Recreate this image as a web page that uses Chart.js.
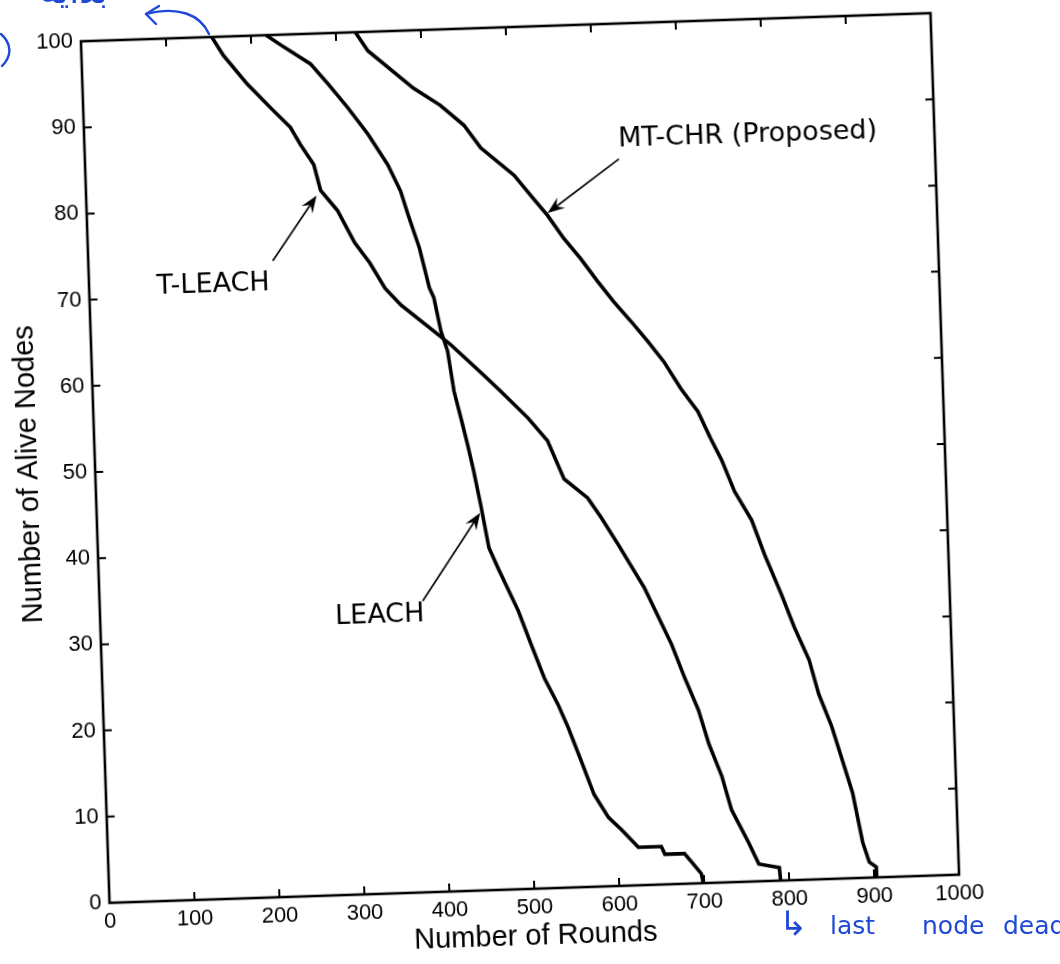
<!DOCTYPE html>
<html lang="en">
<head>
    <meta charset="UTF-8">
    <title>Number of Alive Nodes</title>
    <script src="https://cdn.jsdelivr.net/npm/chart.js"></script>
    <style>
        html, body {
            margin: 0;
            padding: 0;
            background: #fff;
            overflow: hidden;
        }

        .page {
            position: relative;
            width: 1060px;
            height: 964px;
            overflow: hidden;
            background: #fff;
        }

        /* the printed figure sits slightly askew on the page */
        #aliveChart {
            position: absolute;
            left: 0;
            top: 0;
            transform-origin: 520px 458px;
            transform: rotate(-1.9deg);
        }

        .ink {
            position: absolute;
            color: #1f48d6;
            font-family: "DejaVu Sans", sans-serif;
            font-size: 25px;
            white-space: nowrap;
        }

        .ink-lines {
            position: absolute;
            left: 0;
            top: 0;
        }
    </style>
</head>
<body>
    <div class="page">
        <canvas id="aliveChart" width="1060" height="964"></canvas>

        <svg class="ink-lines" width="1060" height="964">
            <g fill="none" stroke="#1f48d6" stroke-width="2.4" stroke-linecap="round" stroke-linejoin="round">
                <path d="M209,34 C200,14 178,6 146,14"/>
                <path d="M159,6 L146,14 L156,24"/>
                <path d="M1,34 C12,44 12,56 2,66"/>
            </g>
        </svg>
        <div class="ink" style="left:40px; top:-30px; font-size:36px;" dir="rtl">بداية</div>
        <div class="ink" style="left:779px; top:903px; font-size:34px;">↳</div>
        <div class="ink" style="left:830px; top:911px;">last</div>
        <div class="ink" style="left:922px; top:911px;">node</div>
        <div class="ink" style="left:1003px; top:911px;">dead</div>
    </div>

    <script>
        // rounds at which each protocol reaches the given number of alive nodes
        const mtchrRounds = [323, 337, 360, 389, 420, 447, 466, 504, 526, 542, 560, 579, 598, 616, 636, 655, 673, 692, 711, 725, 737, 751, 770, 784, 802, 816, 832, 842, 856, 867, 878, 888, 895, 903, 903];
        const mtchrAlive  = [100, 97.8, 95.8, 93.3, 91.2, 88.8, 86.1, 82.8, 80, 78, 75.3, 72.9, 70.2, 67.8, 65.4, 63, 60.6, 57.4, 54.7, 51.5, 49, 45.3, 41.9, 37.8, 33.2, 29.3, 25.5, 21.5, 17.7, 13.8, 9.9, 4.1, 1.8, 1.2, 0];

        const tleachRounds = [154, 167, 194, 220, 243, 254, 269, 276, 295, 314, 331, 348, 366, 403, 423, 460, 480, 511, 533, 551, 578, 593, 612, 641, 671, 685, 700, 711, 725, 735, 754, 765, 789, 790];
        const tleachAlive  = [100, 97.8, 94.4, 91.6, 89.2, 87.2, 84.8, 81.8, 79.4, 75.6, 73.2, 70.2, 68.2, 65.1, 63.4, 59.8, 57.8, 54.6, 51.9, 47.4, 45.1, 42.8, 39.6, 34.5, 27.8, 23.9, 20.1, 16.1, 12.3, 8.4, 4.5, 2, 1.5, 0];

        const leachRounds = [218, 235, 269, 289, 311, 334, 356, 370, 378, 390, 400, 405, 412, 419, 425, 432, 439, 445, 452, 460, 470, 492, 506, 520, 535, 546, 560, 574, 590, 605, 624, 651, 655, 678, 686, 697, 699];
        const leachAlive  = [100, 98.8, 96.5, 94.1, 91.3, 88.1, 84.5, 81.4, 78.6, 74.7, 70.1, 68.9, 65, 62.7, 58, 54.9, 51.7, 48.7, 44.7, 39.7, 37.3, 32.3, 28.3, 24.4, 21.3, 18.6, 14.7, 10.7, 8, 6.5, 4.4, 4.4, 3.5, 3.5, 2.5, 1.1, 0];

        const roundTicks = [0, 100, 200, 300, 400, 500, 600, 700, 800, 900, 1000];
        const aliveTicks = [0, 10, 20, 30, 40, 50, 60, 70, 80, 90, 100];

        // text callouts with arrows, placed in data units
        const callouts = [
            { text: 'MT-CHR (Proposed)', at: [628, 86.6], align: 'left',   from: [628, 84.3], to: [542, 78.3] },
            { text: 'T-LEACH',           at: [146, 71.2], align: 'center', from: [217, 73.8], to: [271, 81.2] },
            { text: 'LEACH',             at: [329, 32.2], align: 'center', from: [380, 33.8], to: [451, 43.8] }
        ];

        function toPoints(xs, ys) {
            return xs.map((x, i) => ({ x: x, y: ys[i] }));
        }

        // MATLAB-like box with inward ticks on all four sides
        const boxTicks = {
            id: 'boxTicks',
            afterDatasetsDraw(chart) {
                const { ctx, chartArea: a, scales: { x, y } } = chart;
                ctx.save();
                ctx.strokeStyle = '#000';
                ctx.lineWidth = 2.6;
                ctx.strokeRect(a.left, a.top, a.right - a.left, a.bottom - a.top);
                ctx.lineWidth = 2;
                ctx.beginPath();
                roundTicks.forEach(v => {
                    const px = x.getPixelForValue(v);
                    ctx.moveTo(px, a.bottom);
                    ctx.lineTo(px, a.bottom - 8);
                    ctx.moveTo(px, a.top);
                    ctx.lineTo(px, a.top + 8);
                });
                aliveTicks.forEach(v => {
                    const py = y.getPixelForValue(v);
                    ctx.moveTo(a.left, py);
                    ctx.lineTo(a.left + 8, py);
                    ctx.moveTo(a.right, py);
                    ctx.lineTo(a.right - 8, py);
                });
                ctx.stroke();
                ctx.restore();
            }
        };

        const calloutLabels = {
            id: 'calloutLabels',
            afterDraw(chart) {
                const { ctx, scales: { x, y } } = chart;
                ctx.save();
                ctx.fillStyle = '#000';
                ctx.strokeStyle = '#000';
                ctx.font = '27px "DejaVu Sans"';
                ctx.textBaseline = 'middle';
                callouts.forEach(c => {
                    ctx.textAlign = c.align;
                    ctx.fillText(c.text, x.getPixelForValue(c.at[0]), y.getPixelForValue(c.at[1]));

                    const x0 = x.getPixelForValue(c.from[0]), y0 = y.getPixelForValue(c.from[1]);
                    const x1 = x.getPixelForValue(c.to[0]), y1 = y.getPixelForValue(c.to[1]);
                    const ang = Math.atan2(y1 - y0, x1 - x0);
                    ctx.lineWidth = 1.7;
                    ctx.beginPath();
                    ctx.moveTo(x0, y0);
                    ctx.lineTo(x1 - 8 * Math.cos(ang), y1 - 8 * Math.sin(ang));
                    ctx.stroke();

                    // filled arrowhead with a notched back
                    const len = 17, half = 6.5;
                    const bx = x1 - len * Math.cos(ang), by = y1 - len * Math.sin(ang);
                    const nx = -Math.sin(ang), ny = Math.cos(ang);
                    ctx.beginPath();
                    ctx.moveTo(x1, y1);
                    ctx.lineTo(bx + nx * half, by + ny * half);
                    ctx.lineTo(x1 - 11 * Math.cos(ang), y1 - 11 * Math.sin(ang));
                    ctx.lineTo(bx - nx * half, by - ny * half);
                    ctx.closePath();
                    ctx.fill();
                });
                ctx.restore();
            }
        };

        const tickFont = { family: 'Liberation Sans', size: 22 };
        const titleFont = { family: 'Liberation Sans', size: 29 };

        const ctx = document.getElementById('aliveChart').getContext('2d');

        const aliveChart = new Chart(ctx, {
            type: 'line',
            data: {
                datasets: [
                    { label: 'MT-CHR (Proposed)', data: toPoints(mtchrRounds, mtchrAlive) },
                    { label: 'T-LEACH', data: toPoints(tleachRounds, tleachAlive) },
                    { label: 'LEACH', data: toPoints(leachRounds, leachAlive) }
                ]
            },
            options: {
                responsive: false,
                animation: false,
                events: [],
                layout: { padding: { top: 27, right: 115, bottom: 0, left: 0 } },
                plugins: {
                    legend: { display: false },
                    tooltip: { enabled: false }
                },
                elements: {
                    point: { radius: 0 },
                    line: { borderColor: '#000', borderWidth: 3.6, tension: 0, fill: false }
                },
                scales: {
                    x: {
                        type: 'linear',
                        min: 0,
                        max: 1000,
                        afterFit: s => { s.height = 75; },
                        afterBuildTicks: s => { s.ticks = roundTicks.map(v => ({ value: v })); },
                        grid: { display: false, drawTicks: false },
                        border: { display: false },
                        ticks: { padding: 6, color: '#000', font: tickFont, maxRotation: 0, callback: v => String(v) },
                        title: {
                            display: true,
                            text: 'Number of Rounds',
                            color: '#000',
                            font: titleFont,
                            padding: { top: 0, bottom: 10 }
                        }
                    },
                    y: {
                        type: 'linear',
                        min: 0,
                        max: 100,
                        afterFit: s => { s.width = 95; },
                        afterBuildTicks: s => { s.ticks = aliveTicks.map(v => ({ value: v })); },
                        grid: { display: false, drawTicks: false },
                        border: { display: false },
                        ticks: { padding: 8, color: '#000', font: tickFont, callback: v => String(v) },
                        title: {
                            display: true,
                            text: 'Number of Alive Nodes',
                            color: '#000',
                            font: titleFont,
                            padding: { top: 12, bottom: 0 }
                        }
                    }
                }
            },
            plugins: [boxTicks, calloutLabels]
        });
    </script>
</body>
</html>
